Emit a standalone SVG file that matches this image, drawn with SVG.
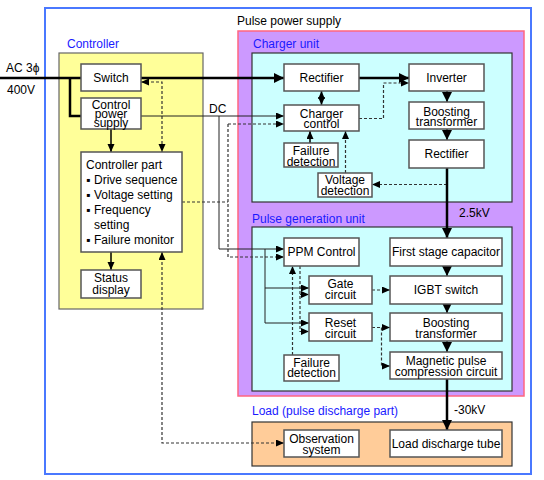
<svg xmlns="http://www.w3.org/2000/svg" width="544" height="480" viewBox="0 0 544 480">
<style>
text{font-family:"Liberation Sans",Arial,Helvetica,sans-serif;font-size:12px;fill:#000}
.c{text-anchor:middle}
.lbl{fill:#1a1aff}
.n{fill:#fff;stroke:#555;stroke-width:1.5}
.th{stroke:#000;stroke-width:2.5;fill:none}
.s{stroke:#222;stroke-width:1;fill:none}
.d{stroke:#333;stroke-width:1.2;stroke-dasharray:3,2;fill:none}
.v{stroke:#000;stroke-width:1.5;fill:none}
</style>
<defs>
<marker id="a" markerUnits="userSpaceOnUse" markerWidth="8" markerHeight="8" refX="8" refY="3.5" orient="auto-start-reverse"><path d="M0,0 L8,3.5 L0,7 z" fill="#000"/></marker>
<marker id="b" markerUnits="userSpaceOnUse" markerWidth="11" markerHeight="11" refX="10" refY="5" orient="auto-start-reverse"><path d="M0,0 L10,5 L0,10 z" fill="#000"/></marker>
</defs>

<rect id="pulse-power-supply" x="45" y="8" width="486" height="466" fill="#fff" stroke="#4a78ff" stroke-width="2"/>
<text x="237" y="25">Pulse power supply</text>

<g id="controller">
<rect x="59" y="53" width="144" height="256" fill="#ffff99" stroke="#666" stroke-width="1.2"/>
<text class="lbl" x="67" y="48">Controller</text>
</g>
<g id="charger-unit">
<rect x="238" y="31" width="286" height="365" fill="#cc99ff" stroke="#ff6680" stroke-width="1.5"/>
<text class="lbl" x="253" y="48">Charger unit</text>
<rect x="252" y="53" width="260" height="149" fill="#ccffff" stroke="#333" stroke-width="1.2"/>
</g>
<g id="pulse-generation-unit">
<text class="lbl" x="252" y="223">Pulse generation unit</text>
<rect x="252" y="227" width="260" height="164" fill="#ccffff" stroke="#333" stroke-width="1.2"/>
</g>
<g id="load">
<text class="lbl" x="252" y="415">Load (pulse discharge part)</text>
<rect x="252" y="422" width="260" height="44" fill="#ffcc99" stroke="#333" stroke-width="1.2"/>
</g>

<g id="connectors">
<!-- AC input -->
<path class="th" d="M0,78 H81"/>
<path class="th" d="M70,78 V116 H81"/>
<path class="th" d="M141,78 H284" marker-end="url(#b)"/>
<path class="th" d="M359,78 H409" marker-end="url(#b)"/>
<!-- switch <-> controller part -->
<path class="d" d="M141,82 H162 V152" marker-start="url(#a)" marker-end="url(#a)"/>
<!-- control power -> controller part -> status -->
<path class="v" d="M111,129 V152" marker-end="url(#a)"/>
<path class="v" d="M111,252 V270" marker-end="url(#a)"/>
<!-- DC -->
<path class="s" d="M141,116 H284" marker-end="url(#a)"/>
<path class="s" d="M219,116 V249 H284" marker-end="url(#a)"/>
<!-- controller part dashed to charger control & PPM -->
<path class="d" d="M182,202 H228"/>
<path class="d" d="M228,124 H284" marker-end="url(#a)"/>
<path class="d" d="M228,124 V257 H284" marker-end="url(#a)"/>
<!-- rectifier <-> charger control -->
<path class="v" d="M321.5,91 V105" marker-start="url(#a)" marker-end="url(#a)"/>
<!-- charger control -> inverter -->
<path class="d" d="M359,118.5 H383.5 V83 H409" marker-end="url(#a)"/>
<!-- charger chain -->
<path class="v" d="M447,91 V102" marker-end="url(#b)"/>
<path class="v" d="M447,129 V140" marker-end="url(#b)"/>
<!-- detections -->
<path class="v" d="M310,143 V131" marker-end="url(#a)"/>
<path class="d" d="M345.5,173 V131" marker-end="url(#a)"/>
<path class="d" d="M447,184.5 H372" marker-end="url(#a)"/>
<!-- 2.5kV -->
<path class="th" d="M447,168 V238" marker-end="url(#b)"/>
<!-- pulse chain -->
<path class="v" d="M447,266 V276" marker-end="url(#b)"/>
<path class="v" d="M447,304 V313" marker-end="url(#b)"/>
<path class="v" d="M447,341 V352" marker-end="url(#b)"/>
<path class="th" d="M447,379 V430" marker-end="url(#b)"/>
<!-- PPM to gate/reset solid -->
<path class="s" d="M265,249 V323 H309" marker-end="url(#a)"/>
<path class="s" d="M265,288 H309" marker-end="url(#a)"/>
<!-- PPM dashed to gate/reset -->
<path class="d" d="M300,266 V331.5 H309" marker-end="url(#a)"/>
<path class="d" d="M300,294.5 H309" marker-end="url(#a)"/>
<!-- failure detection -> PPM -->
<path class="d" d="M292.5,355 V266" marker-end="url(#a)"/>
<!-- gate -> IGBT -->
<path class="d" d="M372,290 H390" marker-end="url(#a)"/>
<!-- reset -> boosting, magnetic -->
<path class="d" d="M372,327.5 H390" marker-end="url(#a)"/>
<path class="d" d="M381.5,327.5 V366 H390" marker-end="url(#a)"/>
<!-- controller part <-> observation -->
<path class="d" d="M162,252 V443 H284" marker-start="url(#a)" marker-end="url(#a)"/>
</g>

<text x="6" y="72">AC 3ϕ</text>
<text x="7" y="94">400V</text>
<text x="209" y="113">DC</text>
<text x="459" y="217">2.5kV</text>
<text x="454" y="414">-30kV</text>

<g id="switch"><rect class="n" x="81" y="64" width="60" height="27"/><text class="c" x="111" y="81.5">Switch</text></g>
<g id="control-power-supply"><rect class="n" x="81" y="98" width="60" height="31"/><text class="c" x="111" y="109">Control</text><text class="c" x="111" y="118">power</text><text class="c" x="111" y="127">supply</text></g>
<g id="controller-part"><rect class="n" x="81" y="152" width="101" height="100"/>
<text x="86" y="169">Controller part</text>
<text x="86" y="184" font-family="DejaVu Sans" font-size="9">▪</text><text x="94" y="184">Drive sequence</text>
<text x="86" y="199" font-family="DejaVu Sans" font-size="9">▪</text><text x="94" y="199">Voltage setting</text>
<text x="86" y="214" font-family="DejaVu Sans" font-size="9">▪</text><text x="94" y="214">Frequency</text>
<text x="94" y="229">setting</text>
<text x="86" y="244" font-family="DejaVu Sans" font-size="9">▪</text><text x="94" y="244">Failure monitor</text>
</g>
<g id="status-display"><rect class="n" x="81" y="270" width="60" height="28"/><text class="c" x="111" y="282">Status</text><text class="c" x="111" y="294">display</text></g>

<g id="rectifier-1"><rect class="n" x="284" y="64" width="75" height="27"/><text class="c" x="321.5" y="81.5">Rectifier</text></g>
<g id="inverter"><rect class="n" x="409" y="64" width="75" height="27"/><text class="c" x="446.5" y="81.5">Inverter</text></g>
<g id="charger-control"><rect class="n" x="284" y="105" width="75" height="26"/><text class="c" x="321.5" y="117.5">Charger</text><text class="c" x="321.5" y="127.5">control</text></g>
<g id="boosting-transformer-1"><rect class="n" x="409" y="102" width="75" height="27"/><text class="c" x="446.5" y="115.7">Boosting</text><text class="c" x="446.5" y="125.7">transformer</text></g>
<g id="rectifier-2"><rect class="n" x="409" y="140" width="75" height="28"/><text class="c" x="446.5" y="158">Rectifier</text></g>
<g id="failure-detection-1"><rect class="n" x="284" y="143" width="54" height="24"/><text class="c" x="311" y="155">Failure</text><text class="c" x="311" y="165.5">detection</text></g>
<g id="voltage-detection"><rect class="n" x="318" y="173" width="54" height="24"/><text class="c" x="345" y="184">Voltage</text><text class="c" x="345" y="194.5">detection</text></g>

<g id="ppm-control"><rect class="n" x="284" y="238" width="75" height="28"/><text class="c" x="321.5" y="256">PPM Control</text></g>
<g id="first-stage-capacitor"><rect class="n" x="390" y="238" width="112" height="28"/><text class="c" x="446" y="256">First stage capacitor</text></g>
<g id="gate-circuit"><rect class="n" x="309" y="276" width="63" height="28"/><text class="c" x="340.5" y="288.3">Gate</text><text class="c" x="340.5" y="299">circuit</text></g>
<g id="igbt-switch"><rect class="n" x="390" y="276" width="112" height="28"/><text class="c" x="446" y="294">IGBT switch</text></g>
<g id="reset-circuit"><rect class="n" x="309" y="313" width="63" height="28"/><text class="c" x="340.5" y="327.3">Reset</text><text class="c" x="340.5" y="338">circuit</text></g>
<g id="boosting-transformer-2"><rect class="n" x="390" y="313" width="112" height="28"/><text class="c" x="446" y="327.3">Boosting</text><text class="c" x="446" y="338">transformer</text></g>
<g id="failure-detection-2"><rect class="n" x="284" y="355" width="55" height="26"/><text class="c" x="311.5" y="366.7">Failure</text><text class="c" x="311.5" y="377.3">detection</text></g>
<g id="magnetic-pulse-compression"><rect class="n" x="390" y="352" width="112" height="27"/><text class="c" x="446" y="365">Magnetic pulse</text><text class="c" x="446" y="375.7">compression circuit</text></g>

<g id="observation-system"><rect class="n" x="284" y="430" width="75" height="27"/><text class="c" x="321.5" y="443">Observation</text><text class="c" x="321.5" y="454">system</text></g>
<g id="load-discharge-tube"><rect class="n" x="390" y="430" width="112" height="27"/><text class="c" x="446" y="447.5">Load discharge tube</text></g>
</svg>
